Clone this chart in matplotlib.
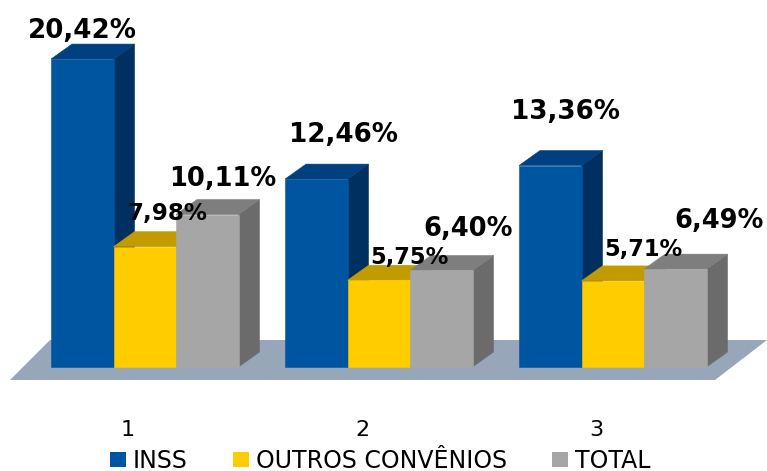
import matplotlib
matplotlib.use("Agg")
import matplotlib.pyplot as plt
from matplotlib.patches import Polygon, Patch

categories = ["1", "2", "3"]
series_names = ["INSS", "OUTROS CONVÊNIOS", "TOTAL"]
inss = [20.42, 12.46, 13.36]
outros = [7.98, 5.75, 5.71]
total = [10.11, 6.40, 6.49]
labels_inss = ["20,42%", "12,46%", "13,36%"]
labels_outros = ["7,98%", "5,75%", "5,71%"]
labels_total = ["10,11%", "6,40%", "6,49%"]

W, H = 767, 471
PX_X = 234.0        # pixels per category
PX_Y = 15.08        # pixels per percent
Y0 = 367            # pixel row of zero
AX_BOTTOM = 405     # pixel row of the axes bottom
TICK0 = 128         # pixel column of the first category
BAR_W = 62.5 / PX_X
BAR_START = -77 / PX_X
DX = 21 / PX_X
DY = 15 / PX_Y

fig = plt.figure(figsize=(W / 100, H / 100), dpi=100, facecolor="white")
ax = fig.add_axes([0, (H - AX_BOTTOM) / H, 1, AX_BOTTOM / H])
ax.set_xlim(-TICK0 / PX_X, (W - TICK0) / PX_X)
ax.set_ylim(-(AX_BOTTOM - Y0) / PX_Y, Y0 / PX_Y)
for s in ax.spines.values():
    s.set_visible(False)
ax.set_yticks([])
ax.set_xticks(range(len(categories)))
ax.set_xticklabels(categories, fontsize=16, color="black")
ax.tick_params(axis="x", length=0, pad=10.5)

def px(x):
    return (x - TICK0) / PX_X

def py(y):
    return (Y0 - y) / PX_Y

# floor
ax.add_patch(Polygon([(px(10), py(380)), (px(715), py(380)), (px(767), py(340)), (px(50), py(340))],
                     closed=True, fc="#98A6BA", ec="none", zorder=1, clip_on=False))

faces = [("#0055A0", "#004080", "#00305F"),
         ("#FFCC00", "#C29B00", "#A88600"),
         ("#A6A6A6", "#7E7E7E", "#6B6B6B")]
all_vals = [inss, outros, total]

z = 2
for c in range(len(categories)):
    for i, vals in enumerate(all_vals):
        v = vals[c]
        x0 = c + BAR_START + i * BAR_W
        x1 = x0 + BAR_W
        front, top, side = faces[i]
        ax.add_patch(Polygon([(x1, 0), (x1 + DX, DY), (x1 + DX, v + DY), (x1, v)],
                             closed=True, fc=side, ec=side, lw=0.4, zorder=z))
        ax.add_patch(Polygon([(x0, v), (x1, v), (x1 + DX, v + DY), (x0 + DX, v + DY)],
                             closed=True, fc=top, ec=top, lw=0.4, zorder=z))
        ax.add_patch(Polygon([(x0, 0), (x1, 0), (x1, v), (x0, v)],
                             closed=True, fc=front, ec=front, lw=0.4, zorder=z))
        z += 1

# (label centre offset from bar's top-left front corner, in pixels; font size)
placements = {
    (0, 0): (31, 28, 18.8), (0, 1): (54, 33, 16.6), (0, 2): (47, 36, 18.5),
    (1, 0): (58, 44, 18.8), (1, 1): (62, 23, 16.3), (1, 2): (58, 41, 18.5),
    (2, 0): (46, 54, 18.8), (2, 1): (62, 31, 16.3), (2, 2): (75, 48, 18.5),
}
all_labels = [labels_inss, labels_outros, labels_total]
for c in range(len(categories)):
    for i, vals in enumerate(all_vals):
        dxp, dyp, fs = placements[(c, i)]
        x0 = c + BAR_START + i * BAR_W
        ax.annotate(all_labels[i][c], xy=(x0, vals[c]), xytext=(dxp * 0.72, dyp * 0.72),
                    textcoords="offset points", ha="center", va="center",
                    fontsize=fs, fontweight="bold", color="black", zorder=50,
                    annotation_clip=False)

handles = [Patch(fc=f[0], ec="none") for f in faces]
fig.legend(handles, series_names, loc="center", bbox_to_anchor=(380 / W, 1 - 460.5 / H),
           ncol=3, frameon=False, fontsize=17, handlelength=0.68, handleheight=0.6,
           handletextpad=0.3, columnspacing=1.9, borderpad=0, labelspacing=0)

fig.savefig("out.png", dpi=100, facecolor="white")
